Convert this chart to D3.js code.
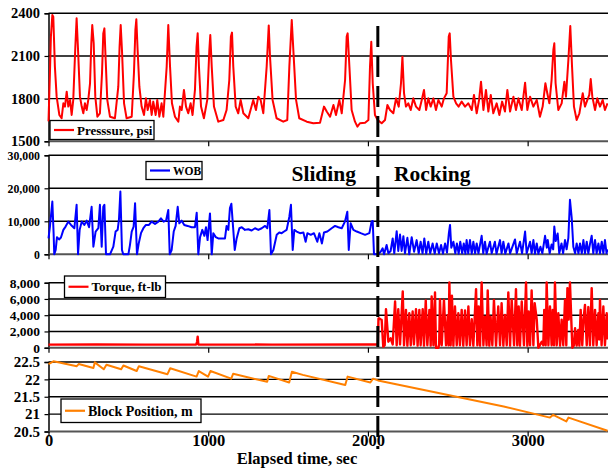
<!DOCTYPE html>
<html><head><meta charset="utf-8">
<script src="https://cdn.jsdelivr.net/npm/d3@7"></script>
<style>
html,body{margin:0;padding:0;background:#fff;}
svg text{font-family:"Liberation Serif","Times New Roman",serif;font-weight:bold;fill:#000;}
</style></head>
<body><svg id="chart" width="608" height="468"></svg>
<script>
// ---------- DATA ----------
const timeTicks = [0, 1000, 2000, 3000];
const pressureTicks = [1500, 1800, 2100, 2400];
const wobTicks = [0, 10000, 20000, 30000];
const torqueTicks = [0, 2000, 4000, 6000, 8000];
const blockTicks = [20.5, 21, 21.5, 22, 22.5];
const transitionTime = 2062;
const phaseLabels = ["Sliding", "Rocking"];
const seriesNames = ["Presssure, psi", "WOB", "Torque, ft-lb", "Block Position, m"];

const pressure = [[0,1640],[9,1978],[15,2236],[24,2388],[30,2376],[40,2025],[51,1814],[68,1685],[82,1662],[93,1767],[103,1744],[114,1849],[124,1744],[135,1791],[145,1685],[155,1791],[168,2165],[176,2365],[185,2142],[197,1814],[208,1744],[218,1697],[228,1767],[239,1720],[249,1791],[260,1908],[268,2189],[274,2318],[283,2189],[293,1814],[306,1673],[322,1697],[335,1978],[343,2259],[350,2294],[358,2072],[368,1791],[385,1673],[416,1662],[437,1884],[445,2165],[452,2318],[460,2142],[473,1767],[489,1662],[521,1673],[535,1978],[544,2283],[550,2358],[558,2142],[569,1884],[583,1744],[598,1685],[610,1802],[621,1720],[635,1791],[646,1685],[656,1779],[671,1685],[681,1791],[694,1673],[708,1767],[719,1673],[740,2025],[750,2318],[761,2025],[773,1767],[792,1673],[813,1638],[823,1744],[834,1720],[848,1861],[861,1744],[875,1697],[890,1767],[902,1685],[917,1861],[927,2165],[934,2259],[942,2025],[955,1744],[973,1662],[994,1791],[1007,2142],[1013,2247],[1022,2025],[1036,1744],[1063,1638],[1095,1650],[1115,1720],[1132,1931],[1142,2236],[1149,2264],[1157,2025],[1172,1744],[1188,1697],[1203,1791],[1220,1697],[1251,1662],[1282,1791],[1299,1720],[1313,1814],[1328,1791],[1345,1697],[1366,2025],[1379,2315],[1387,2095],[1403,1791],[1428,1662],[1470,1638],[1495,1650],[1508,2025],[1523,2353],[1533,2142],[1550,1791],[1570,1662],[1617,1638],[1658,1627],[1700,1631],[1725,1744],[1742,1709],[1763,1673],[1784,1755],[1800,1685],[1821,1791],[1836,1697],[1857,1931],[1867,2236],[1873,2259],[1884,2025],[1898,1720],[1919,1638],[1934,1603],[1950,1627],[1982,1631],[2003,1650],[2013,2025],[2021,2200],[2030,1908],[2044,1685],[2061,1650],[2086,1627],[2107,1650],[2122,1755],[2138,1720],[2159,1697],[2176,1802],[2193,1744],[2207,1908],[2216,2095],[2226,1838],[2238,1744],[2253,1767],[2268,1720],[2284,1802],[2301,1744],[2322,1720],[2337,1791],[2351,1861],[2364,1720],[2378,1802],[2393,1744],[2410,1802],[2426,1720],[2441,1791],[2462,1744],[2476,1802],[2493,1838],[2506,2236],[2512,2259],[2520,2072],[2535,1814],[2552,1767],[2568,1744],[2587,1779],[2608,1744],[2629,1767],[2650,1720],[2664,1826],[2681,1697],[2696,1791],[2708,1919],[2723,1720],[2739,1861],[2754,1709],[2769,1826],[2785,1697],[2806,1767],[2823,1685],[2840,1779],[2858,1709],[2873,1861],[2890,1709],[2911,1814],[2927,1720],[2942,1802],[2963,1720],[2984,1912],[2998,1720],[3015,1814],[3036,1744],[3057,1791],[3077,1673],[3094,1744],[3111,1908],[3123,1838],[3136,1767],[3150,1931],[3161,2142],[3167,2189],[3175,1908],[3192,1720],[3213,1767],[3230,1919],[3240,1814],[3255,2072],[3267,2311],[3278,2025],[3290,1744],[3307,1650],[3324,1697],[3345,1838],[3359,1744],[3374,1791],[3386,1826],[3395,1938],[3405,1814],[3422,1720],[3436,1802],[3453,1744],[3470,1791],[3484,1720],[3500,1767]];

const wob = [[0,4800],[9,8400],[24,16000],[32,6400],[36,0],[45,1300],[53,5200],[66,4500],[78,5100],[93,7400],[107,8400],[124,9900],[141,8900],[162,7900],[176,15000],[185,0],[195,7400],[208,9900],[224,8900],[239,10200],[254,8200],[270,14400],[281,2300],[295,6900],[312,7900],[322,15000],[333,2300],[343,14400],[350,15000],[360,0],[385,0],[406,2300],[420,6900],[433,7400],[441,10400],[450,19000],[460,1300],[468,0],[500,0],[510,2800],[521,6900],[533,8400],[542,15500],[554,0],[565,3300],[579,6400],[594,7900],[610,8900],[629,8900],[646,9900],[667,9200],[688,9900],[704,10900],[721,9900],[736,10200],[750,13400],[759,0],[771,1300],[784,6900],[796,8600],[809,14400],[819,9400],[834,10200],[850,8900],[871,8600],[896,8200],[917,8200],[928,12600],[938,0],[949,5200],[963,7400],[976,5600],[986,8200],[996,4300],[1011,12400],[1022,0],[1032,6400],[1047,5200],[1063,4800],[1084,4800],[1105,4800],[1115,8600],[1126,7400],[1136,14000],[1145,15300],[1157,7400],[1166,1300],[1178,4800],[1195,7900],[1210,8200],[1230,7400],[1251,7600],[1272,7200],[1293,7900],[1314,7400],[1335,7900],[1356,8600],[1370,7900],[1383,13400],[1393,0],[1408,1300],[1429,5900],[1445,6600],[1460,6400],[1475,6900],[1491,7400],[1508,11400],[1518,15000],[1529,1300],[1539,7400],[1554,6900],[1575,6400],[1596,6600],[1610,3800],[1621,6400],[1642,5900],[1662,6400],[1683,3800],[1696,6400],[1712,3300],[1725,6600],[1746,6900],[1773,7900],[1794,8600],[1815,8200],[1836,7900],[1856,9900],[1871,12900],[1880,1300],[1892,9400],[1909,7400],[1930,6900],[1955,6400],[1982,5900],[2009,6400],[2023,9900],[2030,10100],[2038,0],[2055,0],[2065,0],[2080,800],[2092,1800],[2101,0],[2117,2800],[2128,300],[2142,1000],[2155,4800],[2165,300],[2180,7000],[2190,1000],[2201,6000],[2211,1000],[2222,5500],[2232,300],[2247,5000],[2259,0],[2274,5200],[2289,800],[2305,4300],[2318,300],[2330,3800],[2342,300],[2353,4800],[2365,200],[2378,3800],[2390,300],[2405,3300],[2418,200],[2431,3300],[2445,300],[2458,2800],[2470,200],[2483,3300],[2495,500],[2507,6500],[2514,8900],[2522,2000],[2535,3800],[2547,300],[2557,3300],[2568,200],[2578,3800],[2590,300],[2600,3300],[2610,200],[2618,4300],[2628,300],[2639,4300],[2650,200],[2660,3800],[2671,300],[2681,3300],[2692,300],[2712,5600],[2722,300],[2733,3800],[2743,200],[2764,3800],[2775,300],[2795,3800],[2805,200],[2827,4300],[2837,300],[2848,3800],[2860,200],[2880,3300],[2890,300],[2921,4500],[2932,300],[2952,3800],[2965,300],[2984,6900],[2994,300],[3015,3800],[3025,300],[3036,4300],[3046,200],[3057,3300],[3067,200],[3080,2300],[3092,300],[3109,5600],[3120,2000],[3126,4300],[3138,300],[3150,3000],[3160,1500],[3167,8400],[3176,4000],[3188,6300],[3198,300],[3212,3300],[3222,300],[3234,4300],[3244,1500],[3255,5000],[3265,16500],[3276,11000],[3286,2300],[3297,300],[3307,3300],[3318,300],[3328,3300],[3339,300],[3349,4300],[3359,300],[3370,3800],[3380,300],[3391,3300],[3401,5600],[3411,300],[3422,4300],[3432,300],[3443,3300],[3453,300],[3464,3800],[3474,300],[3484,4300],[3494,300],[3500,1500]];

const torque = [[0,380],[300,400],[600,380],[925,400],[930,700],[934,1360],[938,400],[1400,380],[2000,400],[2062,400],[2066,3600],[2069,3630],[2078,3500],[2086,3420],[2096,120],[2105,300],[2113,4740],[2128,740],[2142,1150],[2155,400],[2170,5690],[2180,300],[2190,4740],[2201,400],[2218,6920],[2226,300],[2238,4660],[2247,250],[2259,4240],[2268,300],[2280,4450],[2288,400],[2301,4740],[2311,250],[2322,4660],[2330,300],[2343,4740],[2351,250],[2362,5810],[2372,300],[2385,4660],[2393,250],[2399,6300],[2410,300],[2420,6800],[2426,0],[2441,0],[2446,400],[2451,5970],[2462,300],[2476,5890],[2489,300],[2500,4000],[2505,300],[2510,8030],[2518,300],[2526,6390],[2535,250],[2545,5070],[2556,300],[2566,4240],[2576,300],[2587,4660],[2597,250],[2608,4570],[2618,300],[2629,5070],[2639,300],[2650,3500],[2660,250],[2677,7210],[2685,300],[2693,5070],[2702,250],[2712,8030],[2723,300],[2733,3830],[2743,300],[2750,7045],[2760,250],[2768,3830],[2779,300],[2789,5890],[2802,250],[2816,5070],[2827,300],[2837,5480],[2848,250],[2858,4040],[2869,300],[2879,6800],[2890,250],[2900,5890],[2915,300],[2927,7210],[2935,300],[2944,5070],[2952,250],[2963,5680],[2977,300],[2990,8030],[2998,250],[3006,4450],[3015,300],[3025,7045],[3036,300],[3044,5480],[3057,3460],[3067,0],[3077,330],[3088,740],[3098,300],[3104,4660],[3113,300],[3119,8030],[3130,300],[3140,5070],[3150,300],[3157,4660],[3165,300],[3171,8030],[3182,300],[3192,4240],[3203,250],[3213,3460],[3223,300],[3234,5890],[3242,300],[3249,7330],[3257,3460],[3265,8030],[3274,3050],[3280,0],[3290,300],[3297,2390],[3307,250],[3317,2180],[3324,250],[3332,4660],[3342,300],[3350,3500],[3359,5270],[3370,300],[3380,5000],[3390,300],[3401,7330],[3411,300],[3422,4660],[3432,300],[3443,4240],[3448,1000],[3453,5890],[3463,300],[3474,5070],[3484,300],[3495,4240],[3500,1000]];

const blockPosition = [[0,22.44],[31,22.52],[177,22.38],[189,22.44],[281,22.33],[290,22.49],[346,22.29],[363,22.42],[455,22.29],[469,22.40],[552,22.24],[566,22.38],[745,22.15],[762,22.32],[927,22.08],[941,22.24],[999,22.08],[1014,22.24],[1144,22.02],[1156,22.16],[1369,21.93],[1379,22.10],[1507,21.91],[1524,22.22],[1592,22.13],[1858,21.84],[1873,22.08],[2015,21.91],[2032,22.02],[2063,21.97],[2366,21.68],[2850,21.22],[3140,20.90],[3160,20.98],[3242,20.79],[3256,20.90],[3500,20.52]];

// ---------- LAYOUT ----------
const svg = d3.select("#chart");
const x = d3.scaleLinear().domain([0, 3500]).range([48.5, 607.5]);

const panels = [
  {data: pressure, ticks: pressureTicks, range: [141.3, 13.3], color: "#ff0000", fs: 14.5, sw: 2, fmt: d3.format("d"),
   legend: {x: 50, y: 120.5, w: 104, h: 19, fs: 13, name: seriesNames[0]}},
  {data: wob, ticks: wobTicks, range: [254.3, 155.3], color: "#0000ff", fs: 11.8, sw: 2, fmt: d3.format(","),
   legend: {x: 146, y: 161.5, w: 56, h: 18, fs: 11.5, name: seriesNames[1]}},
  {data: torque, ticks: torqueTicks, range: [347.7, 282.7], color: "#ff0000", fs: 13.5, sw: 2.4, fmt: d3.format(","),
   legend: {x: 64.5, y: 276, w: 101, h: 21.5, fs: 13, name: seriesNames[2]}},
  {data: blockPosition, ticks: blockTicks, range: [431.5, 362], color: "#ff8000", fs: 15, sw: 2, fmt: d3.format(""),
   legend: {x: 61, y: 399, w: 140, h: 23.5, fs: 14, name: seriesNames[3]}}
];

panels.forEach((p, i) => {
  const y = d3.scaleLinear().domain(d3.extent(p.ticks)).range(p.range);
  const g = svg.append("g");
  g.selectAll("line.grid").data(p.ticks.slice(1)).join("line")
    .attr("x1", x(0)).attr("x2", 608).attr("y1", d => y(d)).attr("y2", d => y(d))
    .attr("stroke", "#000").attr("stroke-width", 1.4);
  const ya = d3.axisLeft(y).tickValues(p.ticks).tickFormat(p.fmt).tickSize(4).tickPadding(4.5);
  const yg = g.append("g").attr("transform", `translate(${x(0)},0)`).call(ya);
  yg.select(".domain").attr("stroke", "#000").attr("stroke-width", 1.5);
  yg.selectAll(".tick line").attr("stroke", "#000").attr("stroke-width", 1.2);
  yg.selectAll(".tick text").style("font-size", p.fs + "px").attr("fill", "#000");
  const last = i === panels.length - 1;
  const xa = d3.axisBottom(x).tickValues(timeTicks).tickSize(5).tickSizeOuter(0).tickPadding(0)
    .tickFormat(last ? d3.format("d") : "");
  const xg = g.append("g").attr("transform", `translate(0,${p.range[0]})`).call(xa);
  xg.select(".domain").attr("stroke", "#555").attr("stroke-width", 2).attr("d", `M${x(0)},0H608`);
  xg.selectAll(".tick line").attr("stroke", "#000").attr("stroke-width", 1.2);
  xg.selectAll(".tick text").style("font-size", "16.5px").attr("dy", "0.6em");
  const line = d3.line().x(d => x(d[0])).y(d => y(d[1]));
  g.append("path").datum(p.data).attr("d", line)
    .attr("fill", "none").attr("stroke", p.color).attr("stroke-width", p.sw).attr("stroke-linejoin", "round");
  const L = p.legend;
  const lg = svg.append("g").attr("transform", `translate(${L.x},${L.y})`);
  lg.append("rect").attr("width", L.w).attr("height", L.h).attr("fill", "#fff").attr("stroke", "#000").attr("stroke-width", 1.3);
  lg.append("line").attr("x1", 4).attr("x2", 24).attr("y1", L.h / 2).attr("y2", L.h / 2)
    .attr("stroke", p.color).attr("stroke-width", 2.2);
  lg.append("text").attr("x", 27).attr("y", L.h / 2).attr("dy", "0.35em").style("font-size", L.fs + "px").text(L.name);
});

svg.append("line").attr("x1", x(transitionTime)).attr("x2", x(transitionTime)).attr("y1", 26).attr("y2", 449)
  .attr("stroke", "#000").attr("stroke-width", 3).attr("stroke-dasharray", "21,9");

svg.append("text").attr("x", 356).attr("y", 181).attr("text-anchor", "end").style("font-size", "21.5px").text(phaseLabels[0]);
svg.append("text").attr("x", 394).attr("y", 181).style("font-size", "21.5px").text(phaseLabels[1]);

svg.append("text").attr("x", 297).attr("y", 464).attr("text-anchor", "middle").style("font-size", "16.5px").text("Elapsed time, sec");
</script></body></html>
